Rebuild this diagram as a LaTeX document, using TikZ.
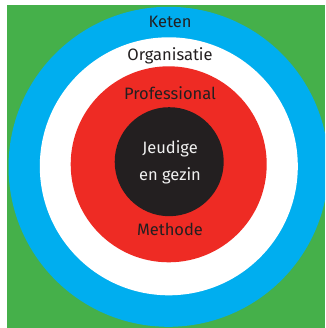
\documentclass[tikz,border=0pt]{standalone}
\usepackage{fontspec}
\setmainfont{Fira Sans}
\definecolor{bggreen}{RGB}{69,176,74}
\definecolor{ringblue}{RGB}{0,174,239}
\definecolor{ringred}{RGB}{238,43,36}
\definecolor{coredark}{RGB}{35,31,32}
\definecolor{txtdark}{RGB}{35,31,32}
\definecolor{txtlight}{RGB}{240,240,240}
\begin{document}
\begin{tikzpicture}[x=1pt,y=-1pt,
  ring/.style={circle,inner sep=0pt,outer sep=0pt,draw=none},
  lbl/.style={anchor=base,inner sep=0pt,font=\fontsize{16.5}{20}\selectfont,text=txtdark},
  corelbl/.style={anchor=base,inner sep=0pt,font=\fontsize{16.5}{20}\selectfont,text=txtlight}]
\useasboundingbox (0,0) rectangle (325,328);
\clip (0,0) rectangle (325,328);
\fill[bggreen] (7,5) rectangle (325,328);
\node[ring,fill=ringblue,minimum size=320pt] (keten) at (168.5,166.8) {};
\node[ring,fill=white,minimum size=258pt] (organisatie) at (168.8,166.3) {};
\node[ring,fill=ringred,minimum size=196pt] (professional) at (168.7,164.3) {};
\node[ring,fill=coredark,minimum size=109pt] (kern) at (169.2,161.7) {};
\node[lbl] (tketen) at (170,28) {Keten};
\node[lbl] (torg) at (170,60.5) {Organisatie};
\node[lbl] (tprof) at (170,100) {Professional};
\node[lbl] (tmeth) at (170,235.7) {Methode};
\node[corelbl] (tjeu) at (170,153.3) {Jeudige};
\node[corelbl] (tgez) at (170,180) {en gezin};
\end{tikzpicture}
\end{document}
